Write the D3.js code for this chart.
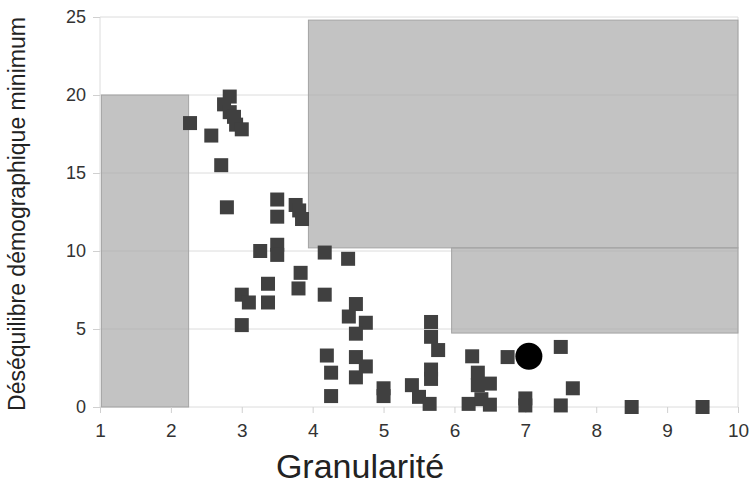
<!DOCTYPE html>
<html>
<head>
<meta charset="utf-8">
<script src="https://cdn.jsdelivr.net/npm/d3@7"></script>
<style>
    body { margin: 0; background: #fff; }
    text { font-family: "Liberation Sans", Arial, sans-serif; }
</style>
</head>
<body>
<svg id="chart" width="749" height="493"></svg>
<script>
// granularité (x) / déséquilibre démographique minimum (y)
var granularite = [
    2.27, 2.83, 2.75, 2.83, 2.89, 2.92, 3.0, 2.57, 2.71, 2.79,
    3.5, 3.5, 3.76, 3.81, 3.85, 3.26, 3.5, 3.5, 3.83, 3.8,
    3.37, 3.37, 3.0, 3.1, 3.0, 4.17, 4.17, 4.5, 4.61, 4.51,
    4.75, 4.61, 4.2, 4.26, 4.26, 4.61, 4.75, 4.61, 5.0, 5.0,
    5.67, 5.67, 5.77, 5.67, 5.67, 5.4, 5.5, 5.65, 6.25, 6.33,
    6.33, 6.5, 6.2, 6.38, 6.5, 6.75, 7.0, 7.0, 7.5, 7.5,
    7.67, 8.5, 9.5
];
var desequilibre = [
    18.2, 19.9, 19.4, 18.9, 18.6, 18.1, 17.8, 17.4, 15.5, 12.8,
    13.3, 12.2, 12.95, 12.6, 12.05, 10.0, 10.4, 9.75, 8.6, 7.6,
    7.9, 6.7, 7.2, 6.7, 5.25, 7.2, 9.9, 9.5, 6.6, 5.8,
    5.4, 4.7, 3.3, 2.2, 0.7, 3.2, 2.6, 1.9, 1.2, 0.7,
    5.45, 4.5, 3.65, 2.4, 1.8, 1.4, 0.65, 0.2, 3.25, 2.2,
    1.4, 1.5, 0.2, 0.5, 0.15, 3.2, 0.55, 0.1, 3.85, 0.1,
    1.2, 0.0, 0.0
];

// point mis en évidence
var refX = [7.05];
var refY = [3.25];

// zones grisées
var zoneX0 = [1.02, 3.94, 5.96];
var zoneX1 = [2.25, 10, 10];
var zoneY0 = [0, 10.2, 4.74];
var zoneY1 = [20, 24.8, 10.2];

var xTicks = [1, 2, 3, 4, 5, 6, 7, 8, 9, 10];
var yTicks = [0, 5, 10, 15, 20, 25];

var svg = d3.select("#chart");

var x = d3.scaleLinear().domain([1, 10]).range([100, 738]);
var y = d3.scaleLinear().domain([0, 25]).range([407, 17]);

var points = granularite.map(function(g, i) {
    return {x: g, y: desequilibre[i]};
});
var zones = zoneX0.map(function(x0, i) {
    return {x0: x0, x1: zoneX1[i], y0: zoneY0[i], y1: zoneY1[i]};
});

// grille
svg.append("g").selectAll("line.grid")
    .data(yTicks)
    .enter().append("line")
    .attr("class", "grid")
    .attr("x1", x(1)).attr("x2", x(10))
    .attr("y1", function(d) { return y(d); })
    .attr("y2", function(d) { return y(d); })
    .attr("stroke", "#dcdcdc")
    .attr("stroke-width", 1);

svg.append("g").selectAll("line.vborder")
    .data([1, 10])
    .enter().append("line")
    .attr("x1", function(d) { return x(d); })
    .attr("x2", function(d) { return x(d); })
    .attr("y1", y(25)).attr("y2", y(0))
    .attr("stroke", "#dcdcdc");

// zones
svg.append("g").selectAll("rect")
    .data(zones)
    .enter().append("rect")
    .attr("x", function(d) { return x(d.x0); })
    .attr("y", function(d) { return y(d.y1); })
    .attr("width", function(d) { return x(d.x1) - x(d.x0); })
    .attr("height", function(d) { return y(d.y0) - y(d.y1); })
    .attr("fill", "#aaaaaa")
    .attr("fill-opacity", 0.7)
    .attr("stroke", "#a4a4a4")
    .attr("stroke-width", 1);

// axes
var xAxis = d3.axisBottom(x).tickValues(xTicks).tickSize(6).tickPadding(11).tickFormat(d3.format("d"));
var yAxis = d3.axisLeft(y).tickValues(yTicks).tickSize(7).tickPadding(7).tickFormat(d3.format("d"));

var gx = svg.append("g").attr("transform", "translate(0," + y(0) + ")").call(xAxis);
var gy = svg.append("g").attr("transform", "translate(" + x(1) + ",0)").call(yAxis);

[gx, gy].forEach(function(g) {
    g.select(".domain").remove();
    g.selectAll(".tick line").attr("stroke", "#d0d0d0");
    g.selectAll(".tick text")
        .attr("fill", "#333")
        .style("font-size", "18px");
});
gx.selectAll(".tick text").style("font-size", "19px");

// points
var s = 14;
svg.append("g").selectAll("rect.pt")
    .data(points)
    .enter().append("rect")
    .attr("class", "pt")
    .attr("x", function(d) { return x(d.x) - s / 2; })
    .attr("y", function(d) { return y(d.y) - s / 2; })
    .attr("width", s)
    .attr("height", s)
    .attr("fill", "#404040");

svg.append("g").selectAll("circle")
    .data(refX)
    .enter().append("circle")
    .attr("cx", function(d) { return x(d); })
    .attr("cy", function(d, i) { return y(refY[i]); })
    .attr("r", 13.5)
    .attr("fill", "#000");

// titres
svg.append("text")
    .attr("x", 360)
    .attr("y", 478)
    .attr("text-anchor", "middle")
    .attr("fill", "#222")
    .style("font-size", "34px")
    .text("Granularité");

svg.append("text")
    .attr("transform", "translate(25,214) rotate(-90)")
    .attr("text-anchor", "middle")
    .attr("fill", "#222")
    .style("font-size", "23px")
    .text("Déséquilibre démographique minimum");
</script>
</body>
</html>
